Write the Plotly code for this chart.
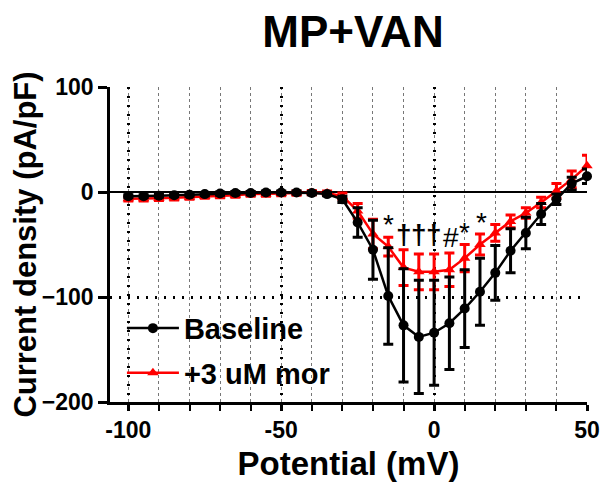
import plotly.graph_objects as go

potential = [-100, -95, -90, -85, -80, -75, -70, -65, -60, -55, -50, -45, -40, -35, -30,
             -25, -20, -15, -10, -5, 0, 5, 10, 15, 20, 25, 30, 35, 40, 45, 50]

baseline_mean = [-4, -4, -3.5, -3, -2.5, -2, -1.5, -1, -1, -0.5, -0.5, -0.5, -1, -2, -7,
                 -29, -55, -99, -127, -138, -134, -125, -111, -95, -77, -56, -39, -21, -7, 8, 15]
baseline_sem = [1.5, 1.5, 1.5, 1.5, 1.5, 1.5, 1.5, 1.5, 1.5, 1.5, 1.5, 1.5, 1.5, 1.5, 3,
                14, 28, 46, 54, 54, 50, 44, 37, 32, 26, 21, 15, 10, 5, 6, 7]

mor_mean = [-6.5, -6.5, -6, -5.5, -5, -4, -3.5, -3, -2, -2, -1.5, -1, -0.5, -1, -4,
            -18, -40, -52, -72, -76, -76, -74, -63, -50, -39, -28, -20, -10, 1, 12, 25]
mor_sem = [2, 2, 2, 2, 2, 2, 2, 2, 2, 2, 2, 2, 2, 2, 3,
           7, 14, 9, 17, 17, 17, 16, 13, 10, 8, 6, 5, 5, 7, 8, 10]

sig_x = [-15, -10, -5, 0, 5.5, 10, 15.5]
sig_y = [-48, -57, -57, -57, -60, -55, -46]
sig_text = ["*", "<b>†</b>", "<b>†</b>", "<b>†</b>", "#", "*", "*"]

FONT = "Liberation Sans"

fig = go.Figure()
fig.add_trace(go.Scatter(
    x=potential, y=mor_mean, name="+3 uM mor", mode="lines+markers",
    line=dict(color="#ff0000", width=2.5),
    marker=dict(symbol="triangle-up", size=10, color="#ff0000"),
    error_y=dict(type="data", array=mor_sem, color="#ff0000", thickness=3, width=5),
    cliponaxis=False, legendgroup="b", legendrank=2,
))
fig.add_trace(go.Scatter(
    x=potential, y=baseline_mean, name="Baseline", mode="lines+markers",
    line=dict(color="black", width=2.5),
    marker=dict(symbol="circle", size=10, color="black"),
    error_y=dict(type="data", array=baseline_sem, color="black", thickness=3, width=5),
    cliponaxis=False, legendgroup="a", legendrank=1,
))

for sx, sy, st in zip(sig_x, sig_y, sig_text):
    fig.add_annotation(x=sx, y=sy, text=st, showarrow=False, yanchor="bottom",
                       font=dict(family=FONT, size=28, color="black"))

fig.update_layout(
    width=600, height=485,
    margin=dict(l=102, r=21, t=79, b=91, autoexpand=False),
    paper_bgcolor="white", plot_bgcolor="white",
    font=dict(family=FONT, color="black"),
    title=dict(text="<b>MP+VAN</b>", x=0.575, xanchor="center", y=0.952, yanchor="middle",
               font=dict(family=FONT, size=44, color="black")),
    legend=dict(x=0.025, y=0.315, xanchor="left", yanchor="top", bgcolor="rgba(0,0,0,0)",
                font=dict(family=FONT, size=29, color="black", weight="bold"),
                tracegroupgap=4, itemwidth=52),
    showlegend=True,
)

fig.update_xaxes(
    range=[-106, 50], tickvals=[-100, -50, 0, 50], ticktext=["-100", "-50", "0", "50"],
    ticks="outside", ticklen=6, tickwidth=2.5, tickcolor="black",
    showline=True, linecolor="black", linewidth=2.5,
    showgrid=True, gridcolor="black", griddash="2px,7px", gridwidth=2.5,
    zeroline=False,
    minor=dict(dtick=10, tick0=0, ticks="outside", ticklen=6, tickwidth=2, tickcolor="black",
               showgrid=True, gridcolor="#777777", griddash="dot", gridwidth=1),
    tickfont=dict(family=FONT, size=23, color="black", weight="bold"),
    title=dict(text="<b>Potential (mV)</b>", font=dict(family=FONT, size=33, color="black"), standoff=10),
)
fig.update_yaxes(
    range=[-200, 100], tickvals=[-200, -100, 0, 100],
    ticks="outside", ticklen=9, tickwidth=2.5, tickcolor="black",
    showline=True, linecolor="black", linewidth=2.5,
    showgrid=True, gridcolor="black", griddash="2px,7px", gridwidth=2.5,
    zeroline=True, zerolinecolor="black", zerolinewidth=1.5,
    tickfont=dict(family=FONT, size=23, color="black", weight="bold"),
    title=dict(text="<b>Current density (pA/pF)</b>", font=dict(family=FONT, size=31, color="black"), standoff=8),
)

fig.write_html("out.html")
